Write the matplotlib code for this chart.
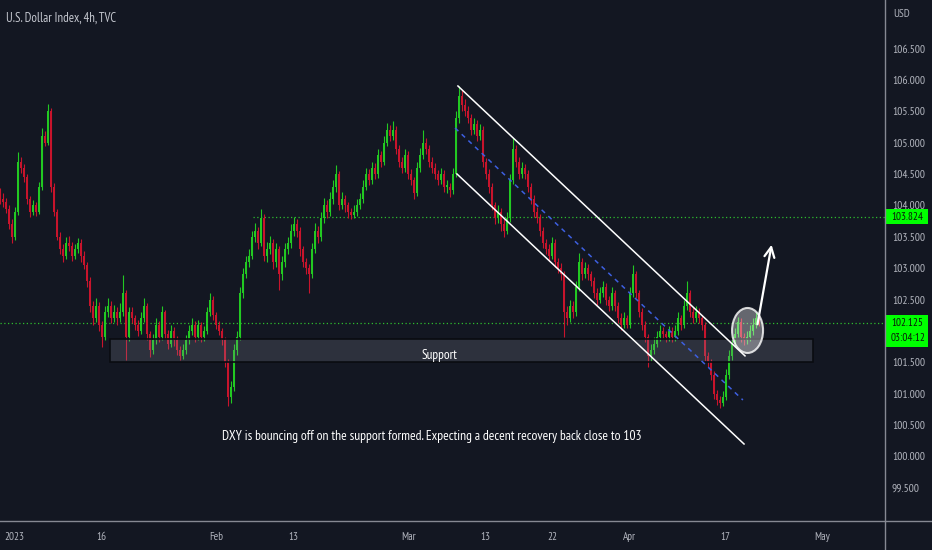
import numpy as np
import matplotlib
matplotlib.use('Agg')
import matplotlib.pyplot as plt
import matplotlib.transforms as mtransforms
from matplotlib import font_manager
from matplotlib.lines import Line2D
from matplotlib.patches import Rectangle, Ellipse

# DXY, 4h chart, resampled to one candle per ~2 bars
first_open = 104.2
closes = [
    104.1, 104.05, 103.95, 103.7, 103.5, 103.9, 104.7, 104.6, 104.45, 104.1,
    103.9, 104.0, 103.9, 104.3, 105.1, 105.0, 105.5, 104.3, 103.9, 103.5,
    103.3, 103.2, 103.4, 103.35, 103.2, 103.3, 103.4, 103.2, 103.05, 102.8,
    102.4, 102.2, 102.4, 102.1, 101.9, 102.3, 102.4, 102.2, 102.3, 102.2,
    102.3, 102.6, 101.9, 102.3, 102.2, 102.1, 102.0, 102.2, 102.4, 101.95,
    101.7, 101.85, 102.1, 101.9, 102.3, 101.95, 101.8, 102.0, 101.85, 101.7,
    101.6, 101.7, 101.85, 102.0, 102.1, 101.9, 102.1, 101.9, 102.0, 102.3,
    102.5, 102.25, 102.1, 102.0, 101.85, 101.5, 100.95, 101.1, 101.7, 101.9,
    102.6, 102.9, 103.1, 103.2, 103.5, 103.6, 103.4, 103.8, 103.2, 103.3,
    103.4, 103.1, 103.3, 102.9, 103.1, 103.3, 103.4, 103.6, 103.7, 103.6,
    103.3, 103.1, 103.0, 102.9, 103.3, 103.6, 103.5, 103.8, 104.0, 103.9,
    104.1, 104.3, 104.5, 104.0, 104.1, 104.0, 103.9, 103.85, 103.9, 104.0,
    104.1, 104.3, 104.5, 104.4, 104.6, 104.5, 104.8, 104.7, 105.0, 105.2,
    105.1, 105.2, 104.9, 104.7, 104.6, 104.8, 104.5, 104.4, 104.2, 104.6,
    104.8, 105.0, 104.9, 104.7, 104.6, 104.5, 104.4, 104.5, 104.3, 104.3,
    104.25, 104.5, 105.4, 105.75, 105.6, 105.5, 105.4, 105.2, 105.3, 105.1,
    105.2, 104.7, 104.5, 104.3, 104.0, 103.8, 103.9, 103.7, 103.6, 103.8,
    104.4, 104.9, 104.7, 104.5, 104.6, 104.5, 104.3, 104.1, 103.9, 103.8,
    103.6, 103.4, 103.3, 103.2, 103.4, 103.1, 103.0, 102.9, 102.3, 102.2,
    102.4, 102.3, 102.7, 103.1, 102.9, 103.0, 102.9, 102.8, 102.6, 102.5,
    102.6, 102.7, 102.5, 102.4, 102.6, 102.4, 102.2, 102.1, 102.2, 102.1,
    102.6, 102.9, 102.6, 102.3, 102.1, 101.9, 101.6, 101.7, 101.8, 101.9,
    102.0, 101.95, 101.9, 102.0, 101.9, 102.0, 102.2, 102.1, 102.4, 102.6,
    102.3, 102.2, 102.3, 102.2, 102.1, 101.6, 101.5, 101.3, 101.0, 100.9,
    100.85, 100.95, 101.3, 101.6, 101.8, 101.95, 102.15, 101.9, 101.85, 101.9,
    102.0, 102.1, 102.2, 102.125,
]
highs = [
    104.28, 104.2, 104.12, 104.0, 103.78, 103.97, 104.85, 104.78, 104.66, 104.5,
    104.15, 104.08, 104.06, 104.38, 105.24, 105.18, 105.61, 105.55, 104.36, 103.95,
    103.58, 103.38, 103.5, 103.52, 103.42, 103.38, 103.48, 103.46, 103.28, 103.1,
    102.86, 102.48, 102.52, 102.46, 102.16, 102.4, 102.52, 102.48, 102.42, 102.38,
    102.45, 102.89, 102.66, 102.38, 102.38, 102.26, 102.18, 102.3, 102.53, 102.44,
    102.0, 101.95, 102.2, 102.16, 102.4, 102.34, 102.02, 102.1, 102.06, 101.92,
    101.76, 101.8, 101.94, 102.1, 102.2, 102.16, 102.18, 102.15, 102.08, 102.38,
    102.6, 102.55, 102.3, 102.16, 102.05, 101.9, 101.55, 101.2, 101.8, 102.0,
    102.7, 103.0, 103.2, 103.3, 103.6, 103.72, 103.66, 103.95, 103.86, 103.42,
    103.52, 103.46, 103.4, 103.35, 103.2, 103.4, 103.5, 103.7, 103.82, 103.78,
    103.65, 103.36, 103.16, 103.06, 103.4, 103.72, 103.68, 103.9, 104.12, 104.08,
    104.22, 104.4, 104.64, 104.55, 104.22, 104.16, 104.06, 103.96, 104.0, 104.1,
    104.2, 104.4, 104.6, 104.58, 104.7, 104.68, 104.9, 104.86, 105.1, 105.32,
    105.28, 105.35, 105.26, 104.96, 104.78, 104.9, 104.86, 104.58, 104.46, 104.7,
    104.92, 105.2, 105.08, 104.96, 104.78, 104.68, 104.56, 104.6, 104.56, 104.4,
    104.36, 104.6, 105.5, 105.9, 105.84, 105.7, 105.58, 105.46, 105.4, 105.36,
    105.3, 105.26, 104.76, 104.58, 104.36, 104.06, 104.0, 103.96, 103.78, 103.9,
    104.5, 105.08, 104.96, 104.78, 104.7, 104.66, 104.56, 104.36, 104.16, 103.98,
    103.86, 103.66, 103.46, 103.38, 103.5, 103.46, 103.16, 103.08, 102.95, 102.4,
    102.5, 102.48, 102.8, 103.24, 103.16, 103.1, 103.06, 102.96, 102.86, 102.68,
    102.7, 102.8, 102.76, 102.56, 102.7, 102.66, 102.46, 102.28, 102.3, 102.26,
    102.7, 103.05, 102.96, 102.66, 102.36, 102.16, 101.95, 101.8, 101.9, 102.0,
    102.1, 102.06, 102.0, 102.08, 102.06, 102.1, 102.3, 102.26, 102.5, 102.8,
    102.66, 102.38, 102.4, 102.36, 102.26, 102.15, 101.66, 101.56, 101.36, 101.06,
    100.96, 101.05, 101.4, 101.7, 101.9, 102.05, 102.22, 102.2, 101.96, 102.0,
    102.1, 102.2, 102.3, 102.26,
]
lows = [
    104.02, 103.98, 103.88, 103.62, 103.4, 103.45, 103.85, 104.52, 104.38, 104.02,
    103.82, 103.85, 103.84, 103.86, 104.25, 104.95, 104.96, 104.22, 103.84, 103.45,
    103.22, 103.1, 103.15, 103.28, 103.12, 103.14, 103.25, 103.1, 102.98, 102.7,
    102.3, 102.1, 102.14, 102.0, 101.74, 101.86, 102.22, 102.12, 102.14, 102.1,
    102.15, 102.24, 101.53, 101.84, 102.12, 102.02, 101.92, 101.95, 102.14, 101.86,
    101.58, 101.64, 101.8, 101.82, 101.85, 101.88, 101.72, 101.74, 101.76, 101.62,
    101.53, 101.55, 101.64, 101.8, 101.94, 101.82, 101.85, 101.83, 101.84, 101.95,
    102.24, 102.18, 102.03, 101.93, 101.78, 101.42, 100.8, 100.86, 101.05, 101.62,
    101.85, 102.52, 102.84, 103.02, 103.14, 103.42, 103.3, 103.35, 103.12, 103.1,
    103.22, 102.98, 103.02, 102.65, 102.82, 103.02, 103.22, 103.32, 103.52, 103.5,
    103.2, 103.02, 102.9, 102.6, 102.84, 103.24, 103.4, 103.44, 103.72, 103.8,
    103.84, 104.02, 104.22, 103.92, 103.94, 103.9, 103.8, 103.78, 103.8, 103.84,
    103.94, 104.04, 104.24, 104.32, 104.34, 104.42, 104.44, 104.62, 104.64, 104.94,
    105.02, 105.04, 104.82, 104.62, 104.52, 104.54, 104.42, 104.32, 104.1, 104.15,
    104.54, 104.74, 104.82, 104.62, 104.52, 104.42, 104.32, 104.34, 104.22, 104.2,
    104.13, 104.18, 104.45, 105.32, 105.5, 105.42, 105.32, 105.12, 105.14, 105.02,
    105.04, 104.62, 104.42, 104.2, 103.92, 103.7, 103.72, 103.6, 103.5, 103.54,
    103.74, 104.34, 104.62, 104.42, 104.44, 104.42, 104.22, 104.02, 103.82, 103.72,
    103.52, 103.32, 103.22, 103.12, 103.14, 103.02, 102.92, 102.82, 101.9, 102.1,
    102.14, 102.2, 102.24, 102.64, 102.82, 102.84, 102.82, 102.72, 102.52, 102.42,
    102.44, 102.54, 102.42, 102.32, 102.34, 102.32, 102.12, 102.02, 102.04, 102.04,
    102.05, 102.54, 102.52, 102.22, 102.02, 101.82, 101.42, 101.52, 101.64, 101.74,
    101.84, 101.88, 101.82, 101.84, 101.82, 101.84, 101.94, 102.02, 102.04, 102.34,
    102.22, 102.12, 102.14, 102.12, 102.02, 101.52, 101.42, 101.22, 100.92, 100.82,
    100.78, 100.8, 100.9, 101.24, 101.54, 101.74, 101.9, 101.82, 101.78, 101.8,
    101.84, 101.94, 102.04, 102.08,
]

# x axis in 4h bars, bar 0 = 16 Jan 2023
date_ticks = [-54, 0, 72, 120, 192, 240, 282, 330, 390, 450]
date_labels = ['2023', '16', 'Feb', '13', 'Mar', '13', '22', 'Apr', '17', 'May']
price_ticks = [99.5, 100.0, 100.5, 101.0, 101.5, 102.5, 103.0, 103.5, 104.0,
               104.5, 105.0, 105.5, 106.0, 106.5]

resistance = 103.824
last_price = 102.125
countdown = '03:04:12'
support_zone = (101.51, 101.87)
channel_upper = ([222.8, 402.0], [105.904, 101.603])
channel_lower = ([222.2, 401.4], [104.502, 100.199])
channel_mid = ([221.0, 400.7], [105.235, 100.9])
note = 'DXY is bouncing off on the support formed. Expecting a decent recovery back close to 103'

BG = '#131722'
GREEN = '#22c922'
RED = '#c8142c'
GREY = '#b2b5be'

# the screenshot text is narrow; use a condensed face when one is installed
names = {f.name for f in font_manager.fontManager.ttflist}
FONT = 'Liberation Sans'
for cand in ['PT Sans Narrow', 'Fira Sans Condensed', 'Roboto Condensed',
             'Archivo Narrow', 'Barlow Semi Condensed', 'Asap Condensed']:
    if cand in names:
        FONT = cand
        break
plt.rcParams['font.family'] = [FONT, 'DejaVu Sans']

fig = plt.figure(figsize=(9.32, 5.5), dpi=100, facecolor=BG)
renderer = fig.canvas.get_renderer()


def size_for(s, width_px, base=10):
    t = fig.text(0, 0, s, fontsize=base)
    w = t.get_window_extent(renderer).width
    t.remove()
    return base * width_px / w


ax = fig.add_axes([0, 1 - 521 / 550, 885 / 932, 521 / 550])
ax.set_facecolor(BG)
ax.set_xlim(-63.05, 489.4)
ax.set_ylim(98.972, 107.274)

# candles
c = np.array(closes)
o = np.concatenate([[first_open], c[:-1]])
x = np.linspace(-63.0, 410.7, len(c))
cols = np.where(c >= o, GREEN, RED)
ax.vlines(x, lows, highs, colors=cols, lw=0.8, zorder=3)
body = np.maximum(np.abs(c - o), 0.02)
ax.bar(x, body, bottom=np.minimum(o, c), width=1.2, color=cols, lw=0, zorder=3)

# support zone
ax.add_patch(Rectangle((5.6, support_zone[0]), 444.4 - 5.6, support_zone[1] - support_zone[0],
                       facecolor=(0.55, 0.57, 0.63, 0.22), edgecolor='#0a0c11', lw=1.2, zorder=4))
ax.text(211.6, 101.553, 'Support', color='white', fontsize=size_for('Support', 36),
        ha='center', va='baseline', zorder=6)

# horizontal levels
ax.hlines(resistance, 94.9, 489.4, colors='#2ebd2e', linestyles=(0, (1, 2)), lw=0.9, zorder=2)
ax.axhline(last_price, color='#2ebd2e', ls=(0, (1, 2)), lw=0.9, zorder=2)

# channel
ax.plot(*channel_upper, color='white', lw=1.1, zorder=5)
ax.plot(*channel_lower, color='white', lw=1.1, zorder=5)
ax.plot(*channel_mid, color='#3d5fe0', lw=1.1, ls=(0, (3, 3)), zorder=5)

# circle + arrow
ax.add_patch(Ellipse((403.6, 102.008), 19.35, 0.717, facecolor=(1, 1, 1, 0.35),
                     edgecolor=(1, 1, 1, 0.8), lw=1.5, zorder=6))
ax.annotate('', xy=(418.9, 103.418), xytext=(409.5, 102.063),
            arrowprops=dict(arrowstyle='->', color='white', lw=1.6, mutation_scale=18), zorder=7)

ax.text(206.7, 100.262, note, color='white', fontsize=size_for(note, 420),
        ha='center', va='baseline', zorder=6)

# axes styling
tick_fs = size_for('106.500', 33)
for s in ax.spines.values():
    s.set_visible(False)
ax.set_xticks(date_ticks)
ax.set_xticklabels(date_labels)
ax.yaxis.tick_right()
ax.set_yticks(price_ticks)
ax.set_yticklabels(['%.3f' % p for p in price_ticks])
ax.tick_params(axis='both', length=0, colors=GREY, labelsize=tick_fs)
ax.tick_params(axis='x', pad=8, labelsize=size_for('2023', 20))
ax.tick_params(axis='y', pad=5)
for lab in ax.get_yticklabels():
    lab.set_horizontalalignment('left')

fig.add_artist(Line2D([885 / 932, 885 / 932], [0, 1], transform=fig.transFigure, color='#868993', lw=1))
fig.add_artist(Line2D([0, 1], [1 - 521 / 550, 1 - 521 / 550], transform=fig.transFigure, color='#868993', lw=1))

# price tags on the scale
tag_fs = size_for('103.824', 32)
trans = mtransforms.blended_transform_factory(ax.transAxes, ax.transData)
ax.add_patch(Rectangle((1.0, resistance - 0.125), 0.0486, 0.25, transform=trans,
                       facecolor='#00ff00', edgecolor='none', clip_on=False, zorder=8))
ax.text(1.0068, resistance, '%.3f' % resistance, transform=trans, color='#0b1a0b',
        fontsize=tag_fs, ha='left', va='center', clip_on=False, zorder=9)
ax.add_patch(Rectangle((1.0, last_price - 0.38), 0.0486, 0.51, transform=trans,
                       facecolor='#00ff00', edgecolor='none', clip_on=False, zorder=8))
ax.text(1.0068, last_price + 0.005, '%.3f' % last_price, transform=trans, color='#0b1a0b',
        fontsize=tag_fs, ha='left', va='center', clip_on=False, zorder=9)
ax.text(1.0068, last_price - 0.235, countdown, transform=trans, color='#0b1a0b',
        fontsize=tag_fs, ha='left', va='center', clip_on=False, zorder=9)

title = 'U.S. Dollar Index, 4h, TVC'
fig.text(6 / 932, 1 - 22 / 550, title, color='#c3c6ce', fontsize=size_for(title, 110),
         ha='left', va='baseline')
fig.text(893 / 932, 1 - 14 / 550, 'USD', color=GREY, fontsize=size_for('USD', 16.5),
         ha='left', va='center')

fig.savefig('out.png', dpi=100, facecolor=BG)
